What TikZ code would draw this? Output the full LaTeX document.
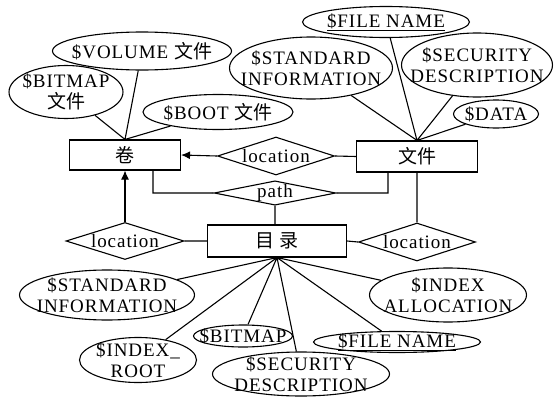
\documentclass[tikz,border=0pt]{standalone}
\usepackage{fontspec}
\setmainfont{Liberation Serif}[LetterSpace=5]
\newfontfamily\cjk{Noto Sans CJK SC}
\usetikzlibrary{shapes.geometric, arrows.meta}

\begin{document}
\begin{tikzpicture}[x=1pt, y=-1pt, font=\fontsize{19}{21}\selectfont]

		% Setup the styles for entities, relations and attributes
		\tikzset{entity style/.style={draw, rectangle, line width=1.1pt, inner sep=0pt},
			relation style/.style={draw, diamond, aspect=3, line width=1.1pt, inner sep=0pt},
			attr style/.style={draw, ellipse, line width=1.1pt, inner xsep=-25pt, inner ysep=-10pt, align=center}}

		\useasboundingbox (0, 0) rectangle (555, 399);

		% Draw the entities
		\node[entity style, minimum width=111pt, minimum height=30pt] at (125, 155) (vol) {\cjk 卷};
		\node[entity style, minimum width=121pt, minimum height=31pt] at (417, 156.5) (file) {\cjk 文件};
		\node[entity style, minimum width=139pt, minimum height=32pt] at (277, 241) (dir) {\cjk 目\hspace{5pt}录};

		% Draw the relations
		\node[relation style, minimum width=117pt, minimum height=38pt] at (276, 156) (loctop) {location};
		\node[relation style, aspect=5, minimum width=114pt, minimum height=24pt] at (275, 193) (path) {path};
		\node[relation style, minimum width=118pt, minimum height=37pt] at (125, 241) (locleft) {location};
		\node[relation style, minimum width=117pt, minimum height=38pt] at (417, 242) (locright) {location};

		% Draw the attributes of the volume
		\node[attr style, minimum width=179pt, minimum height=38pt] at (142, 51) (volume) {\$VOLUME {\cjk 文件}};
		\node[attr style, minimum width=114pt, minimum height=53pt] at (66, 92) (bitmapfile) {\$BITMAP\\{\cjk 文件}};
		\node[attr style, minimum width=150pt, minimum height=35pt] at (218, 112) (boot) {\$BOOT {\cjk 文件}};

		% Draw the attributes of the file
		\node[attr style, minimum width=167pt, minimum height=31pt] at (386, 22) (filename) {\underline{\$FILE NAME}};
		\node[attr style, minimum width=163pt, minimum height=62pt] at (311, 68) (stdinfo) {\$STANDARD\\INFORMATION};
		\node[attr style, minimum width=151pt, minimum height=64pt] at (477, 65) (security) {\$SECURITY\\DESCRIPTION};
		\node[attr style, minimum width=85pt, minimum height=28pt] at (496, 114) (data) {\$DATA};

		% Draw the attributes of the directory
		\node[attr style, minimum width=175pt, minimum height=50pt] at (107, 295) (dirstdinfo) {\$STANDARD\\INFORMATION};
		\node[attr style, minimum width=117pt, minimum height=45pt] at (138, 360) (indexroot) {\$INDEX\_\\ROOT};
		\node[attr style, minimum width=99pt, minimum height=22pt] at (243, 336) (bitmap) {\$BITMAP};
		\node[attr style, minimum width=177pt, minimum height=44pt] at (301, 374) (dirsecurity) {\$SECURITY\\DESCRIPTION};
		\node[attr style, minimum width=167pt, minimum height=21pt] at (397, 342) (dirfilename) {\underline{\$FILE NAME}};
		\node[attr style, minimum width=157pt, minimum height=54pt] at (448, 295) (indexalloc) {\$INDEX\\ALLOCATION};

		% Connect the entities and relations
		\draw[line width=1.1pt, >={Latex[length=9pt, width=8pt]}]
		(file.west) -- (loctop.east)
		(loctop.west) edge[->] (vol.east)
		(locleft.north) edge[->] (vol.south)
		(locleft.east) -- (dir.west)
		([xshift=28pt]vol.south) |- (path.west)
		(path.east) -| ([xshift=-29pt]file.south)
		(path.south) -- (path.south |- dir.north)
		(file.south) -- (locright.north)
		(locright.west) -- (dir.east);

		% Connect the attributes
		\draw[line width=1.1pt]
		(volume) -- (vol.north)
		(bitmapfile) -- (vol.north)
		(boot) -- (vol.north)
		(filename) -- (file.north)
		(stdinfo) -- (file.north)
		(security) -- (file.north)
		(data) -- (file.north)
		(dirstdinfo) -- (dir.south)
		(indexroot) -- (dir.south)
		(bitmap) -- (dir.south)
		(dirsecurity) -- (dir.south)
		(dirfilename) -- (dir.south)
		(indexalloc) -- (dir.south);
		\end{tikzpicture}
\end{document}
